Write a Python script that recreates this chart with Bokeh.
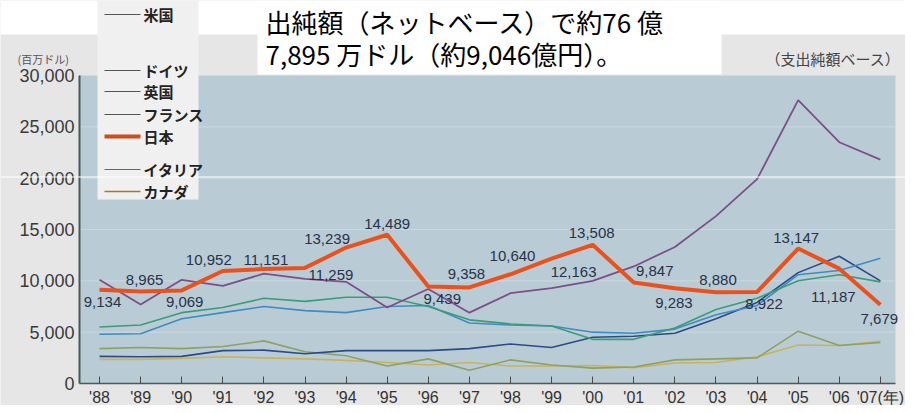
from bokeh.plotting import figure
from bokeh.models import (ColumnDataSource, FixedTicker, NumeralTickFormatter,
                          Label, LabelSet, BoxAnnotation)
from bokeh.core.properties import value
from bokeh.embed import file_html
from bokeh.resources import INLINE

# ---------------- data ----------------
years = [1988, 1989, 1990, 1991, 1992, 1993, 1994, 1995, 1996, 1997,
         1998, 1999, 2000, 2001, 2002, 2003, 2004, 2005, 2006, 2007]
tick_labels = ["'88", "'89", "'90", "'91", "'92", "'93", "'94", "'95", "'96", "'97",
               "'98", "'99", "'00", "'01", "'02", "'03", "'04", "'05", "'06", "'07(年)"]
y_ticks = [0, 5000, 10000, 15000, 20000, 25000, 30000]
grid_values = [5000, 10000, 15000, 20000, 25000]

japan = [9134, 8965, 9069, 10952, 11151, 11259, 13239, 14489, 9439, 9358,
         10640, 12163, 13508, 9847, 9283, 8880, 8922, 13147, 11187, 7679]
us = [10100, 7700, 10100, 9500, 10700, 10200, 9900, 7400, 9200, 6900,
      8800, 9300, 10000, 11400, 13300, 16300, 19900, 27600, 23500, 21800]
germany = [4800, 4850, 6300, 6900, 7500, 7100, 6900, 7500, 7600, 5900,
           5700, 5600, 5000, 4900, 5300, 6700, 7600, 10600, 11000, 12200]
uk = [2640, 2600, 2640, 3200, 3250, 2900, 3200, 3200, 3200, 3400,
      3850, 3500, 4500, 4600, 4900, 6300, 7900, 10800, 12400, 10000]
france = [5500, 5700, 6900, 7400, 8300, 8000, 8400, 8400, 7500, 6200,
          5800, 5600, 4300, 4300, 5400, 7200, 8300, 10000, 10600, 9900]
italy = [3400, 3500, 3400, 3600, 4150, 3100, 2700, 1700, 2400, 1300,
         2300, 1800, 1500, 1600, 2300, 2400, 2500, 5100, 3700, 4000]
canada = [2350, 2350, 2450, 2600, 2500, 2400, 2250, 2050, 1800, 2050,
          1700, 1700, 1750, 1550, 2000, 2050, 2600, 3750, 3700, 4100]

legend_names = ["米国", "ドイツ", "英国", "フランス", "日本", "イタリア", "カナダ"]

# ---------------- styles / positions ----------------
japan_label_dx = [3, 4, 3, -14, 2, 26, -19, 0, 14, -3, 2, 22, -1, 21, -1, 2, 7, -2, -6, -1]
japan_label_dy = [12, -11, 12, -11, -9, 7, -9, -11, 12, -13, -18, 13, -12, -11, 15, -12, 12, -11, 28, 14]

CJK = "Noto Sans CJK JP"
NUM = "Liberation Sans"

# whole canvas is the frame; plotting area is a sub-box of the data space
X_RANGE = (1985.591, 2007.611)
Y_RANGE = (-2142.86, 37305.19)
AREA_X = (1987.513, 2007.367)
AREA_Y = (0, 30000)

p = figure(width=905, height=405, x_range=X_RANGE, y_range=Y_RANGE,
           output_backend="svg", toolbar_location=None,
           min_border=0, min_border_left=0, min_border_right=0,
           min_border_top=0, min_border_bottom=0)

p.background_fill_color = "#e6e6e6"
p.border_fill_color = "#e6e6e6"
p.outline_line_color = None
p.xgrid.grid_line_color = None
p.ygrid.grid_line_color = None

# plotting area background
p.add_layout(BoxAnnotation(left=AREA_X[0], right=AREA_X[1], bottom=AREA_Y[0], top=AREA_Y[1],
                           fill_color="#b9ccd6", fill_alpha=1, line_color=None, level="image"))
# horizontal grid lines
p.segment(x0=[AREA_X[0]] * len(grid_values), x1=[AREA_X[1]] * len(grid_values),
          y0=grid_values, y1=grid_values, line_color="#c9d8e0", line_width=1, level="underlay")

# axes placed at the edges of the plotting area
p.yaxis.fixed_location = AREA_X[0]
p.yaxis.bounds = AREA_Y
p.yaxis.ticker = FixedTicker(ticks=y_ticks)
p.yaxis.formatter = NumeralTickFormatter(format="0,0")
p.yaxis.major_tick_line_color = None
p.yaxis.major_tick_in = 0
p.yaxis.major_tick_out = 0
p.yaxis.minor_tick_line_color = None
p.yaxis.axis_line_color = "#4d5656"
p.yaxis.axis_line_width = 2
p.yaxis.major_label_text_font = NUM
p.yaxis.major_label_text_font_size = "18px"
p.yaxis.major_label_text_color = "#3a3a3a"
p.yaxis.major_label_standoff = 5

p.xaxis.fixed_location = AREA_Y[0]
p.xaxis.bounds = AREA_X
p.xaxis.ticker = FixedTicker(ticks=years)
p.xaxis.major_label_overrides = {y: t for y, t in zip(years, tick_labels)}
p.xaxis.major_tick_in = 7
p.xaxis.major_tick_out = 0
p.xaxis.major_tick_line_color = "#4a4a4a"
p.xaxis.minor_tick_line_color = None
p.xaxis.axis_line_color = "#4d5a50"
p.xaxis.axis_line_width = 1.5
p.xaxis.major_label_text_font = NUM
p.xaxis.major_label_text_font_size = "16px"
p.xaxis.major_label_text_color = "#333333"
p.xaxis.major_label_standoff = 6

# ---------------- lines ----------------
p.line(years, canada, line_color="#c9b35a", line_width=1.6)
p.line(years, italy, line_color="#8fa060", line_width=1.6)
p.line(years, uk, line_color="#2c4a8a", line_width=1.6)
p.line(years, germany, line_color="#3d8cc4", line_width=1.6)
p.line(years, france, line_color="#3a9c78", line_width=1.6)
p.line(years, us, line_color="#7d4e88", line_width=1.8)
p.line(years, japan, line_color="#e9521d", line_width=4)

src = ColumnDataSource(dict(x=years, y=japan, t=[f"{v:,}" for v in japan],
                            dx=japan_label_dx, dy=[-d for d in japan_label_dy]))
p.add_layout(LabelSet(x="x", y="y", text="t", source=src, x_offset="dx", y_offset="dy",
                      text_align="center", text_baseline="middle",
                      text_font=value(NUM), text_font_size="15px", text_color="#283248"))

# ---------------- page decorations (canvas pixels) ----------------
def box(l, r, t, b, color):
    p.add_layout(BoxAnnotation(left=l, right=r, top=t, bottom=b,
                               left_units="canvas", right_units="canvas",
                               top_units="canvas", bottom_units="canvas",
                               fill_color=color, fill_alpha=1, line_color=None))

box(0, 905, 0, 34, "white")        # white top strip
box(257, 721, 0, 74, "white")      # title box
box(97, 198, 0, 199, "#f0f0f0")    # legend box
box(0, 905, 176, 177, "#ffffff")   # scan line

leg_y = [14, 70, 91, 114, 136, 169, 191]
leg_col = ["#555555", "#555555", "#555555", "#555555", "#d04a1a", "#666666", "#a87a1a"]
leg_w = [1, 1, 1, 1, 4, 1, 1.5]
for name, yy, c, w in zip(legend_names, leg_y, leg_col, leg_w):
    box(104, 140, yy - w / 2, yy + w / 2, c)
    p.add_layout(Label(x=143, y=yy, x_units="canvas", y_units="canvas", text=name,
                       text_font=CJK, text_font_size="15px", text_font_style="bold",
                       text_color="#222222", text_baseline="middle", text_align="left"))

p.add_layout(Label(x=265, y=21, x_units="canvas", y_units="canvas",
                   text="出純額（ネットベース）で約76 億", text_font=CJK,
                   text_font_size="26px", text_color="#000000",
                   text_baseline="middle", text_align="left"))
p.add_layout(Label(x=265, y=53, x_units="canvas", y_units="canvas",
                   text="7,895 万ドル（約9,046億円）。", text_font=CJK,
                   text_font_size="26px", text_color="#000000",
                   text_baseline="middle", text_align="left"))
p.add_layout(Label(x=17, y=58, x_units="canvas", y_units="canvas",
                   text="(百万ドル)", text_font=CJK, text_font_size="11px",
                   text_color="#555555", text_baseline="middle", text_align="left"))
p.add_layout(Label(x=765, y=58, x_units="canvas", y_units="canvas",
                   text="（支出純額ベース）", text_font=CJK, text_font_size="15px",
                   text_color="#444444", text_baseline="middle", text_align="left"))

open("out.html", "w").write(file_html(p, INLINE))
